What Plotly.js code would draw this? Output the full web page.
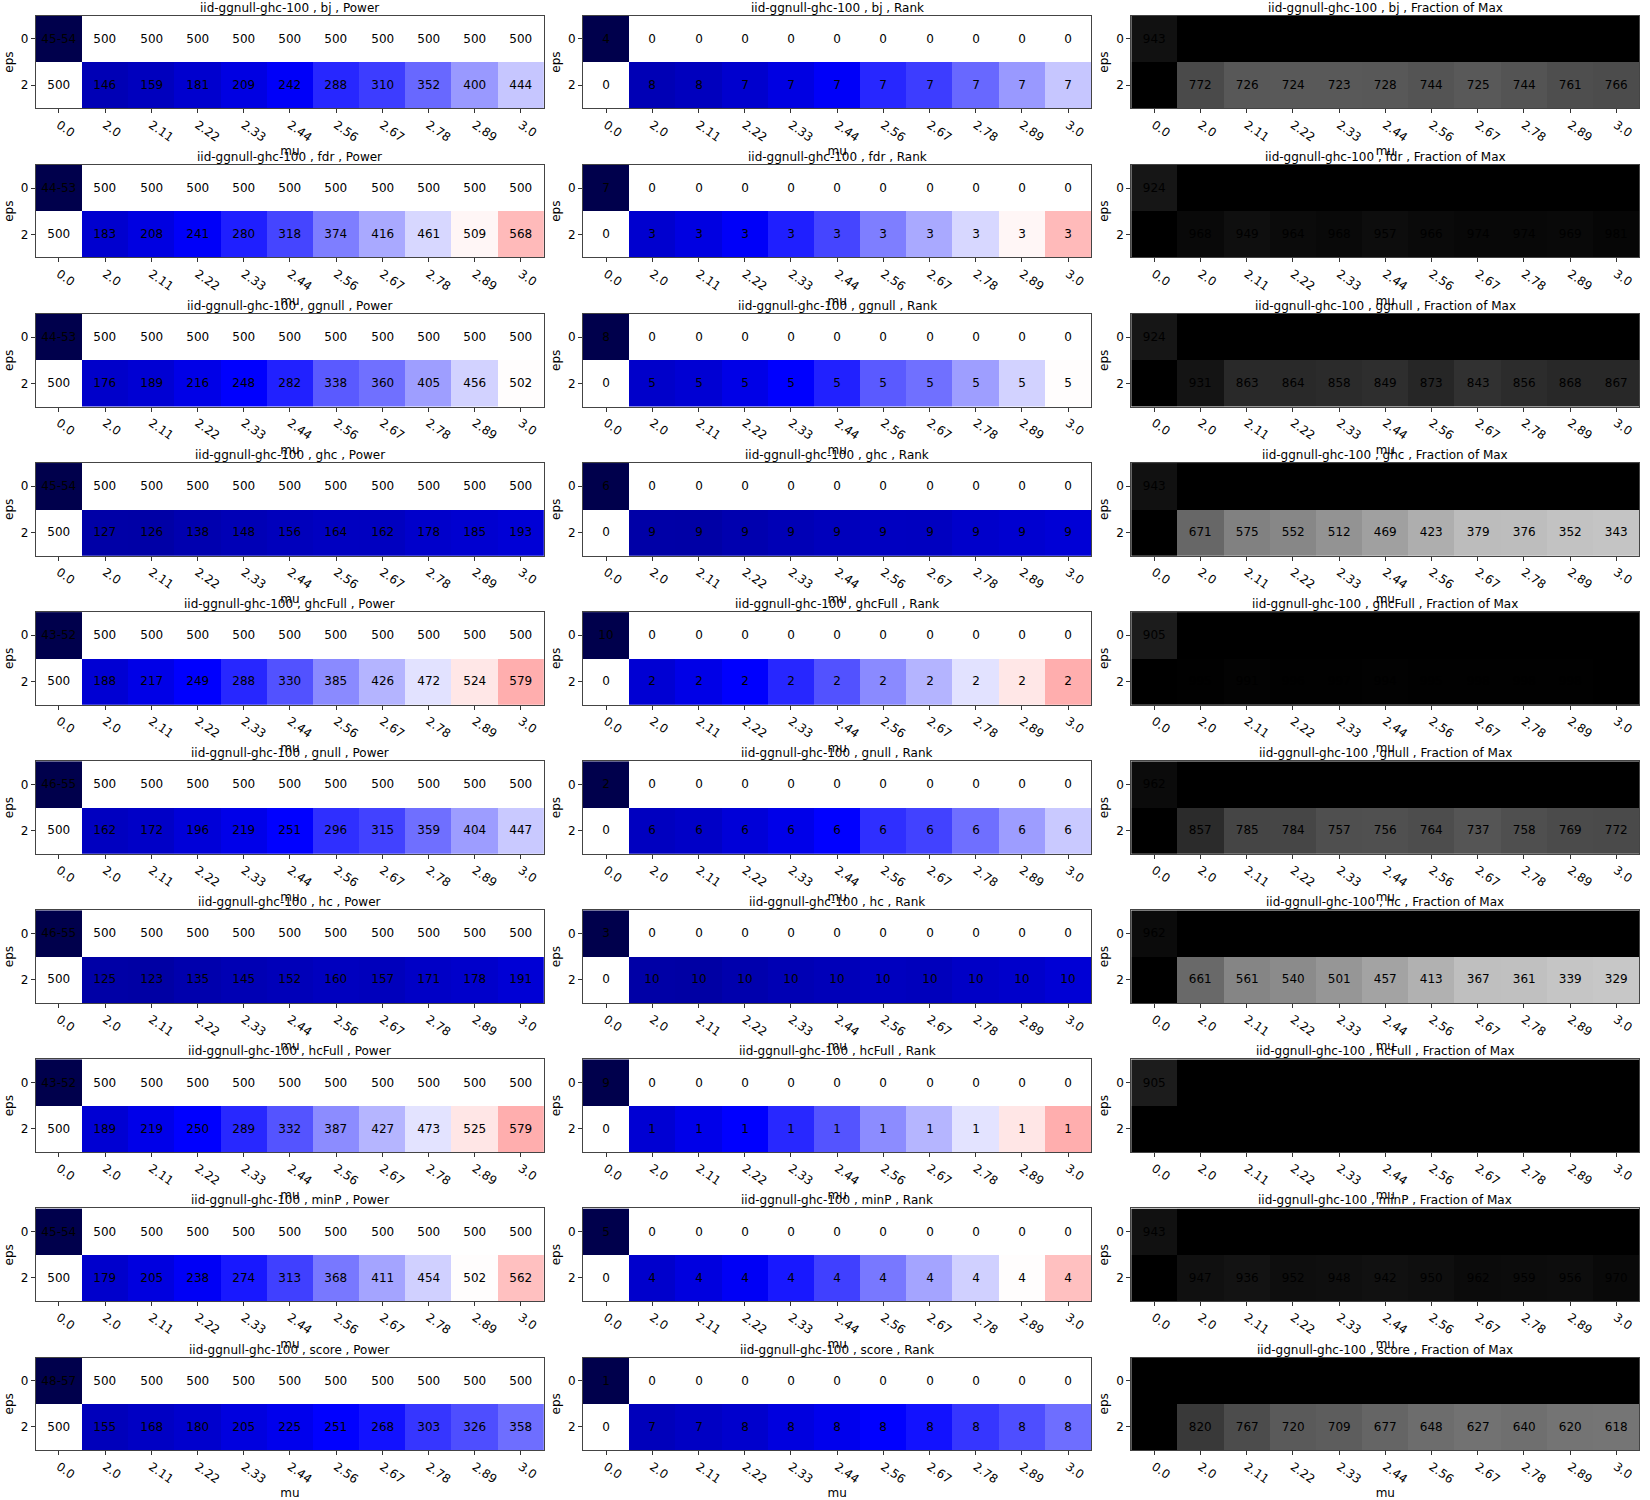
<!DOCTYPE html>
<html>
<head>
<meta charset="utf-8">
<script src="https://cdn.plot.ly/plotly-3.0.1.min.js"></script>
<style>html,body{margin:0;padding:0;background:#fff;}#chart{width:1650px;height:1500px;}</style>
</head>
<body>
<div id="chart"></div>
<script>
// ---- data ----
const mu = ['0.0','2.0','2.11','2.22','2.33','2.44','2.56','2.67','2.78','2.89','3.0'];
const eps = ['0','2'];
const methods = ['bj','fdr','ggnull','ghc','ghcFull','gnull','hc','hcFull','minP','score'];
const nullSize = ['45-54','44-53','44-53','45-54','43-52','46-55','46-55','43-52','45-54','48-57'];
const nullRank = [4,7,8,6,10,2,3,9,5,1];
const nullFrac = [943,924,924,943,905,962,962,905,943,1000];
const nullLevel = 0;          // colour value of the eps=0, mu=0 cell in Power/Rank
const eps0Power = 500;        // eps=0, mu>0 power
const eps0Rank = 0;
const eps0Frac = 1000;

const bjPower      = [500,146,159,181,209,242,288,310,352,400,444];
const fdrPower     = [500,183,208,241,280,318,374,416,461,509,568];
const ggnullPower  = [500,176,189,216,248,282,338,360,405,456,502];
const ghcPower     = [500,127,126,138,148,156,164,162,178,185,193];
const ghcFullPower = [500,188,217,249,288,330,385,426,472,524,579];
const gnullPower   = [500,162,172,196,219,251,296,315,359,404,447];
const hcPower      = [500,125,123,135,145,152,160,157,171,178,191];
const hcFullPower  = [500,189,219,250,289,332,387,427,473,525,579];
const minPPower    = [500,179,205,238,274,313,368,411,454,502,562];
const scorePower   = [500,155,168,180,205,225,251,268,303,326,358];

const bjRank      = [0,8,8,7,7,7,7,7,7,7,7];
const fdrRank     = [0,3,3,3,3,3,3,3,3,3,3];
const ggnullRank  = [0,5,5,5,5,5,5,5,5,5,5];
const ghcRank     = [0,9,9,9,9,9,9,9,9,9,9];
const ghcFullRank = [0,2,2,2,2,2,2,2,2,2,2];
const gnullRank   = [0,6,6,6,6,6,6,6,6,6,6];
const hcRank      = [0,10,10,10,10,10,10,10,10,10,10];
const hcFullRank  = [0,1,1,1,1,1,1,1,1,1,1];
const minPRank    = [0,4,4,4,4,4,4,4,4,4,4];
const scoreRank   = [0,7,7,8,8,8,8,8,8,8,8];

const bjFrac      = [1000,772,726,724,723,728,744,725,744,761,766];
const fdrFrac     = [1000,968,949,964,968,957,966,974,974,969,981];
const ggnullFrac  = [1000,931,863,864,858,849,873,843,856,868,867];
const ghcFrac     = [1000,671,575,552,512,469,423,379,376,352,343];
const ghcFullFrac = [1000,995,991,996,997,994,995,998,998,998,1000];
const gnullFrac   = [1000,857,785,784,757,756,764,737,758,769,772];
const hcFrac      = [1000,661,561,540,501,457,413,367,361,339,329];
const hcFullFrac  = [1000,1000,1000,1000,1000,1000,1000,1000,1000,1000,1000];
const minPFrac    = [1000,947,936,952,948,942,950,962,959,956,970];
const scoreFrac   = [1000,820,767,720,709,677,648,627,640,620,618];

const powerRows = [bjPower,fdrPower,ggnullPower,ghcPower,ghcFullPower,gnullPower,hcPower,hcFullPower,minPPower,scorePower];
const rankRows  = [bjRank,fdrRank,ggnullRank,ghcRank,ghcFullRank,gnullRank,hcRank,hcFullRank,minPRank,scoreRank];
const fracRows  = [bjFrac,fdrFrac,ggnullFrac,ghcFrac,ghcFullFrac,gnullFrac,hcFrac,hcFullFrac,minPFrac,scoreFrac];
const panelNames = ['Power','Rank','Fraction of Max'];

// ---- style ----
const seismic = [[0,'#00004c'],[0.25,'#0000ff'],[0.5,'#ffffff'],[0.75,'#ff0000'],[1,'#800000']];
const greys = [[0,'#ffffff'],[0.125,'#f0f0f0'],[0.25,'#d9d9d9'],[0.375,'#bdbdbd'],[0.5,'#969696'],[0.625,'#737373'],[0.75,'#525252'],[0.875,'#252525'],[1,'#000000']];
const FONT = 'DejaVu Sans, Liberation Sans, sans-serif';
const W = 1650, H = 1500;
const colLeft = [35.8, 583.0, 1131.2];
const panelW = 508.2, panelH = 92.6, rowTop0 = 15.8, rowStep = 149.08;
const CELL_FS = 12, TICK_FS = 12, AXT_FS = 12, TITLE_FS = 12;

const data = [];
const layout = {
  width: W, height: H,
  margin: {l:0, r:0, t:0, b:0},
  paper_bgcolor: '#fff', plot_bgcolor: '#fff',
  font: {family: FONT, size: 12, color: '#000'},
  showlegend: false,
  annotations: []
};

for (let i = 0; i < methods.length; i++) {
  const top = rowTop0 + i * rowStep;
  const yDom = [1 - (top + panelH) / H, 1 - top / H];
  const pw = powerRows[i], rk = rankRows[i], fr = fracRows[i];
  const zPR = [[nullLevel].concat(mu.slice(1).map(() => eps0Power)), pw];
  const panels = [
    {z: zPR, text: [[nullSize[i]].concat(mu.slice(1).map(() => String(eps0Power))), pw.map(String)], cs: seismic, zmax: 1000},
    {z: zPR, text: [[String(nullRank[i])].concat(mu.slice(1).map(() => String(eps0Rank))), rk.map(String)], cs: seismic, zmax: 1000},
    {z: [[nullFrac[i]].concat(mu.slice(1).map(() => eps0Frac)), fr],
     text: [[nullFrac[i]].concat(mu.slice(1).map(() => eps0Frac)), fr].map(r => r.map(v => v >= 1000 ? '' : String(v))),
     cs: greys, zmax: 1000}
  ];
  for (let j = 0; j < 3; j++) {
    const k = i * 3 + j + 1;
    const xs = k === 1 ? '' : String(k);
    const p = panels[j];
    data.push({
      type: 'heatmap', x: mu, y: eps, z: p.z, text: p.text,
      texttemplate: '%{text}', textfont: {family: FONT, size: CELL_FS, color: '#000'},
      colorscale: p.cs, zmin: 0, zmax: p.zmax, showscale: false, hoverinfo: 'skip',
      xaxis: 'x' + xs, yaxis: 'y' + xs
    });
    const xDom = [colLeft[j] / W, (colLeft[j] + panelW) / W];
    layout['xaxis' + xs] = {
      domain: xDom, anchor: 'y' + xs, type: 'category',
      tickangle: 35, ticks: 'outside', ticklen: 4, tickcolor: '#333',
      tickfont: {family: FONT, size: TICK_FS, color: '#000'},
      showline: true, mirror: true, linecolor: '#444', linewidth: 1,
      showgrid: false, zeroline: false, fixedrange: true, automargin: false,
      title: {text: 'mu', font: {family: FONT, size: AXT_FS, color: '#000'}, standoff: 0}
    };
    layout['yaxis' + xs] = {
      domain: yDom, anchor: 'x' + xs, type: 'category', autorange: 'reversed',
      ticks: 'outside', ticklen: 4, tickcolor: '#333',
      tickfont: {family: FONT, size: TICK_FS, color: '#000'},
      showline: true, mirror: true, linecolor: '#444', linewidth: 1,
      showgrid: false, zeroline: false, fixedrange: true, automargin: false,
      title: {text: 'eps', font: {family: FONT, size: AXT_FS, color: '#000'}, standoff: 4}
    };
    layout.annotations.push({
      text: 'iid-ggnull-ghc-100 , ' + methods[i] + ' , ' + panelNames[j],
      xref: 'paper', yref: 'paper',
      x: (xDom[0] + xDom[1]) / 2, y: 1 - (top - 8) / H,
      xanchor: 'center', yanchor: 'middle', showarrow: false,
      font: {family: FONT, size: TITLE_FS, color: '#000'}
    });
  }
}

Plotly.newPlot('chart', data, layout, {staticPlot: true, displayModeBar: false});
</script>
</body>
</html>
